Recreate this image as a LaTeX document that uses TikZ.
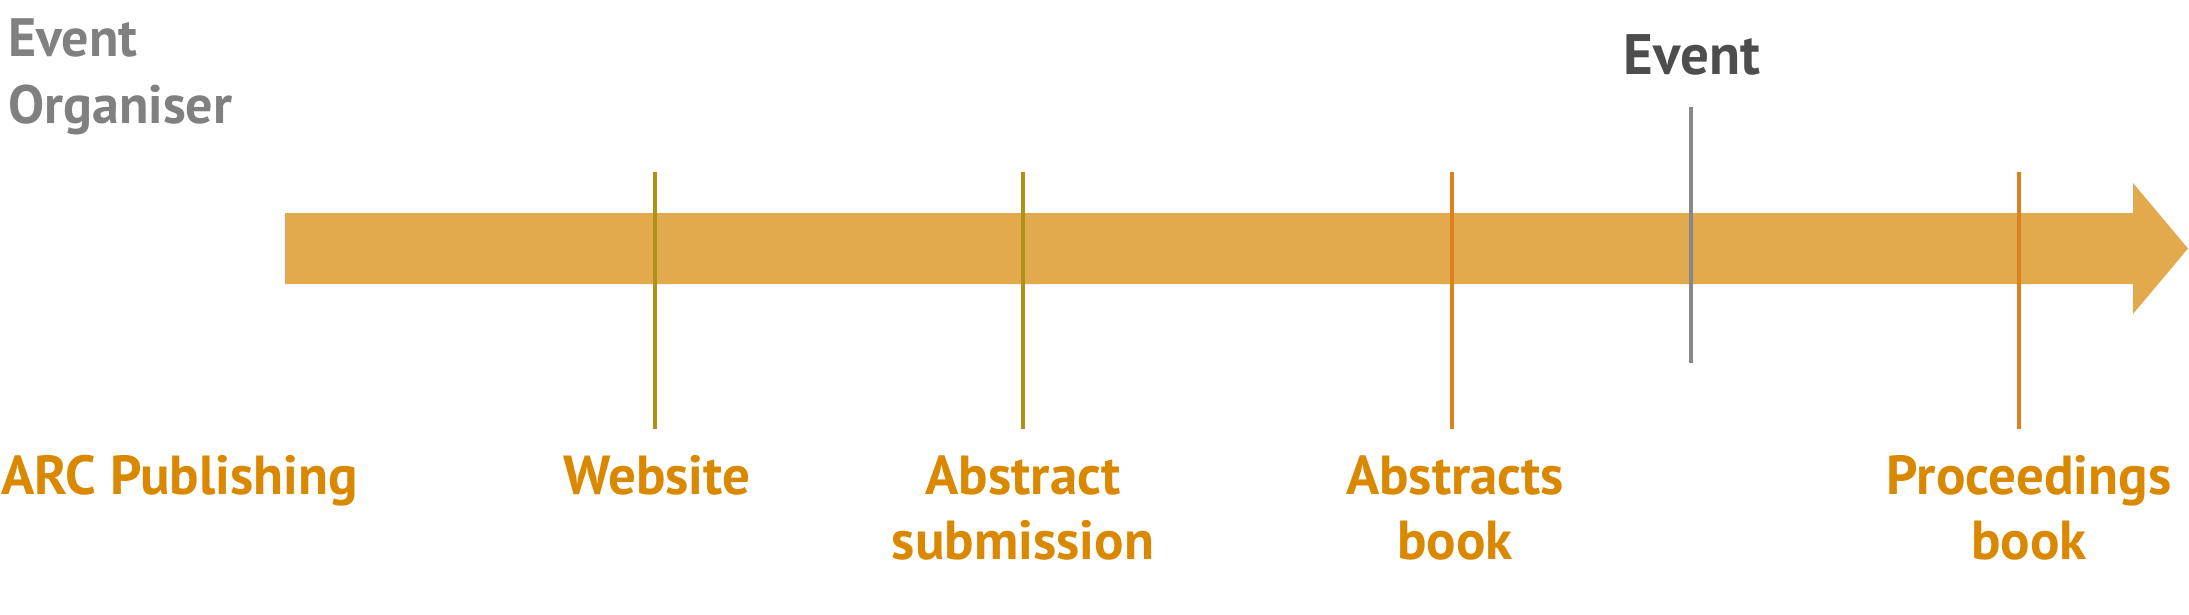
\documentclass[tikz,border=0pt]{standalone}
\usepackage{fontspec}
\setmainfont{PT Sans}
\definecolor{arrowfill}{HTML}{E2A94D}
\definecolor{labelorange}{HTML}{D98800}
\definecolor{oliveline}{HTML}{AE9318}
\definecolor{orangeline}{HTML}{D9821E}
\definecolor{greytext}{HTML}{808080}
\definecolor{darktext}{HTML}{4D4D4D}
\definecolor{eventline}{HTML}{888888}
\tikzset{
  lbl/.style={font=\fontsize{55}{60}\selectfont\bfseries, text=labelorange, inner sep=0pt, anchor=base},
  lblsemi/.style={font=\fontsize{55}{60}\selectfont\bfseries, text=labelorange, inner sep=0pt, anchor=base west},
  orgtext/.style={font=\fontsize{54}{60}\selectfont\bfseries, text=greytext, inner sep=0pt, anchor=base west},
  evtext/.style={font=\fontsize{57}{60}\selectfont\bfseries, text=darktext, inner sep=0pt, anchor=base},
  tick/.style={line width=4pt},
}
\begin{document}
\begin{tikzpicture}[x=1pt,y=-1pt]
\useasboundingbox (0,0) rectangle (2189,614);
% timeline arrow
\fill[arrowfill] (285,213) -- (2133,213) -- (2133,183) -- (2188,248.5) -- (2133,314) -- (2133,284) -- (285,284) -- cycle;
% ticks
\coordinate (wt) at (655,172);  \coordinate (wb) at (655,429);
\coordinate (at) at (1023,172); \coordinate (ab) at (1023,429);
\coordinate (bt) at (1452,172); \coordinate (bb) at (1452,429);
\coordinate (et) at (1691,107); \coordinate (eb) at (1691,363);
\coordinate (pt) at (2019,172); \coordinate (pb) at (2019,429);
\draw[tick, oliveline] (wt) -- (wb);
\draw[tick, oliveline] (at) -- (ab);
\draw[tick, orangeline] (bt) -- (bb);
\draw[tick, eventline] (et) -- (eb);
\draw[tick, orangeline] (pt) -- (pb);
% top labels
\node[orgtext] (org1) at (8,56) {Event};
\node[orgtext] (org2) at (8,123) {Organiser};
\node[evtext] (event) at (1692,74) {Event};
% bottom labels
\node[lblsemi] (arc) at (1,494) {ARC Publishing};
\node[lbl] (web) at (657,494) {Website};
\node[lbl] (abs1) at (1023,494) {Abstract};
\node[lbl] (abs2) at (1023,559) {submission};
\node[lbl] (abk1) at (1455,494) {Abstracts};
\node[lbl] (abk2) at (1455,559) {book};
\node[lbl] (pro1) at (2029,494) {Proceedings};
\node[lbl] (pro2) at (2029,559) {book};
\end{tikzpicture}
\end{document}
